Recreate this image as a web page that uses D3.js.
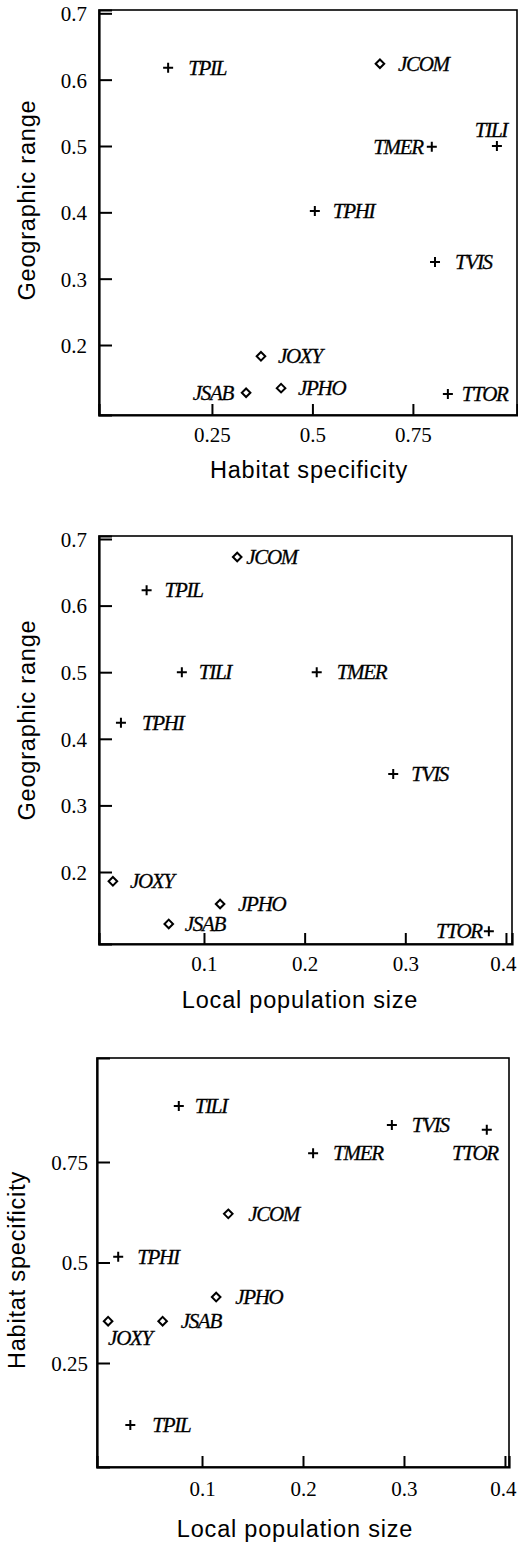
<!DOCTYPE html>
<html><head><meta charset="utf-8">
<script src="https://cdn.jsdelivr.net/npm/d3@7"></script>
<style>
html,body{margin:0;padding:0;background:#fff;}
svg{display:block;}
.tick text{font-family:"Liberation Serif","Times New Roman",serif;font-size:21px;fill:#000;}
.lab{font-family:"Liberation Serif","Times New Roman",serif;font-style:italic;font-size:21px;letter-spacing:-1.3px;fill:#000;stroke:#000;stroke-width:0.3px;}
.title{font-family:"Liberation Sans",Arial,sans-serif;font-size:23.5px;letter-spacing:0.8px;fill:#000;}
</style></head><body>
<script>
// ---- data ----
const species = ["TPIL","JCOM","TMER","TILI","TPHI","TVIS","JOXY","JSAB","JPHO","TTOR"];
const genus   = ["T","J","T","T","T","T","J","J","J","T"]; // J = diamond, T = plus

// Panel 1: habitat specificity (x) vs geographic range (y)
const p1Habitat = [0.141,0.668,0.797,0.959,0.506,0.805,0.372,0.335,0.422,0.837];
const p1Range   = [0.618,0.624,0.499,0.500,0.402,0.325,0.183,0.128,0.135,0.126];
// Panel 2: local population size (x) vs geographic range (y)
const p2PopSize = [0.043,0.133,0.212,0.078,0.0175,0.288,0.0095,0.065,0.116,0.383];
const p2Range   = [0.623,0.673,0.500,0.500,0.424,0.347,0.186,0.122,0.152,0.111];
// Panel 3: local population size (x) vs habitat specificity (y)
const p3PopSize = [0.029,0.126,0.210,0.077,0.017,0.288,0.007,0.061,0.114,0.382];
const p3Habitat = [0.096,0.621,0.772,0.889,0.514,0.842,0.354,0.354,0.414,0.830];

const p1XTicks = [0.25,0.5,0.75], p1YTicks = [0.2,0.3,0.4,0.5,0.6,0.7];
const p2XTicks = [0.1,0.2,0.3,0.4], p2YTicks = [0.2,0.3,0.4,0.5,0.6,0.7];
const p3XTicks = [0.1,0.2,0.3,0.4], p3YTicks = [0.25,0.5,0.75];
const p1XTickLabels = ["0.25","0.5","0.75"], p1YTickLabels = ["0.2","0.3","0.4","0.5","0.6","0.7"];
const p2XTickLabels = ["0.1","0.2","0.3","0.4"], p2YTickLabels = ["0.2","0.3","0.4","0.5","0.6","0.7"];
const p3XTickLabels = ["0.1","0.2","0.3","0.4"], p3YTickLabels = ["0.25","0.5","0.75"];

// ---- layout ----
const W = 518, H = 1542;
const svg = d3.select("body").append("svg").attr("width", W).attr("height", H);

// label placement per panel: [anchor, dx, dy(baseline offset)]
const place1 = {TPIL:["start",20,7],JCOM:["start",18,7],TMER:["end",-9,7],TILI:["middle",-6,-9],
  TPHI:["start",18,7],TVIS:["start",20,7],JOXY:["start",17,7],JSAB:["end",-13,7],JPHO:["start",17,7],TTOR:["start",14,7]};
const place2 = {TPIL:["start",18,7],JCOM:["start",9,7],TMER:["start",20,7],TILI:["start",17,7],
  TPHI:["start",21,7],TVIS:["start",18,7],JOXY:["start",17,7],JSAB:["start",16,7],JPHO:["start",18,7],TTOR:["end",-7,7]};
const place3 = {TPIL:["start",22,7],JCOM:["start",20,7],TMER:["start",20,7],TILI:["start",16,7],
  TPHI:["start",19,7],TVIS:["start",20,7],JOXY:["start",0,24],JSAB:["start",18,7],JPHO:["start",19,7],TTOR:["end",11,30]};

const panels = [
  {x:p1Habitat, y:p1Range, frame:[99,10,517,415], xd:[-0.031,1.009], yd:[0.0945,0.705],
   xt:p1XTicks, xtl:p1XTickLabels, yt:p1YTicks, ytl:p1YTickLabels, ypad:12, xpad:27,
   xtitle:"Habitat specificity", xtX:309, xtY:478, ytitle:"Geographic range", ytX:35, ytY:200, place:place1},
  {x:p2PopSize, y:p2Range, frame:[99,536,512,944], xd:[-0.0043,0.406], yd:[0.0919,0.7045],
   xt:p2XTicks, xtl:p2XTickLabels, yt:p2YTicks, ytl:p2YTickLabels, ypad:12, xpad:27,
   xtitle:"Local population size", xtX:300, xtY:1008, ytitle:"Geographic range", ytX:35, ytY:720, place:place2},
  {x:p3PopSize, y:p3Habitat, frame:[97,1058,509,1467], xd:[-0.004,0.404], yd:[-0.0087,1.0087],
   xt:p3XTicks, xtl:p3XTickLabels, yt:p3YTicks, ytl:p3YTickLabels, ypad:9, xpad:29,
   xtitle:"Local population size", xtX:295, xtY:1537, ytitle:"Habitat specificity", ytX:25, ytY:1270, place:place3}
];

panels.forEach(p => {
  const [x0,y0,x1,y1] = p.frame;
  const xs = d3.scaleLinear().domain(p.xd).range([x0,x1]);
  const ys = d3.scaleLinear().domain(p.yd).range([y1,y0]);
  const g = svg.append("g");

  // frame
  g.append("rect").attr("x",x0).attr("y",y0).attr("width",x1-x0).attr("height",y1-y0)
    .attr("fill","none").attr("stroke","#000").attr("stroke-width",1.6);

  // y axis
  const ya = g.append("g").attr("transform",`translate(${x0},0)`)
    .call(d3.axisLeft(ys).tickValues(p.yt).tickFormat((d,i)=>p.ytl[i]).tickSize(-13).tickPadding(p.ypad));
  ya.select(".domain").attr("stroke","#000").attr("stroke-width",2.2);
  ya.selectAll(".tick line").attr("stroke","#000").attr("stroke-width",2);
  ya.selectAll(".tick text").attr("dy","0.35em");

  // x axis
  const xa = g.append("g").attr("transform",`translate(0,${y1})`)
    .call(d3.axisBottom(xs).tickValues(p.xt).tickFormat((d,i)=>p.xtl[i]).tickSize(-11).tickPadding(p.xpad));
  xa.select(".domain").attr("stroke","#000").attr("stroke-width",2.2);
  xa.selectAll(".tick line").attr("stroke","#000").attr("stroke-width",2);
  xa.selectAll(".tick text").attr("dy","0");
  // keep the right-most tick label inside the page
  xa.selectAll(".tick").each(function(){
    const t = d3.select(this).select("text");
    const bb = this.getBBox ? t.node().getBBox() : null;
    const m = this.getAttribute("transform").match(/translate\(([-\d.]+)/);
    const cx = m ? +m[1] : 0;
    if (bb && cx + bb.x + bb.width > W - 1) t.attr("x", (W - 1) - (cx + bb.x + bb.width));
  });

  // titles
  g.append("text").attr("class","title").attr("x",p.xtX).attr("y",p.xtY)
    .attr("text-anchor","middle").text(p.xtitle);
  g.append("text").attr("class","title").attr("text-anchor","middle")
    .attr("transform",`translate(${p.ytX},${p.ytY}) rotate(-90)`).text(p.ytitle);

  // points
  const pts = species.map((s,i)=>({s, g:genus[i], x:p.x[i], y:p.y[i]}));
  const mk = g.selectAll(".pt").data(pts).enter().append("g")
    .attr("transform",d=>`translate(${xs(d.x)},${ys(d.y)})`);
  mk.filter(d=>d.g==="T").append("path").attr("d","M-5,0H5M0,-5V5")
    .attr("stroke","#000").attr("stroke-width",2).attr("fill","none");
  mk.filter(d=>d.g==="J").append("path").attr("d","M0,-4.3L4.3,0L0,4.3L-4.3,0Z")
    .attr("stroke","#000").attr("stroke-width",2).attr("fill","#fff");
  mk.append("text").attr("class","lab")
    .attr("text-anchor",d=>p.place[d.s][0])
    .attr("x",d=>p.place[d.s][1]).attr("y",d=>p.place[d.s][2])
    .text(d=>d.s);
});
</script>
</body></html>
